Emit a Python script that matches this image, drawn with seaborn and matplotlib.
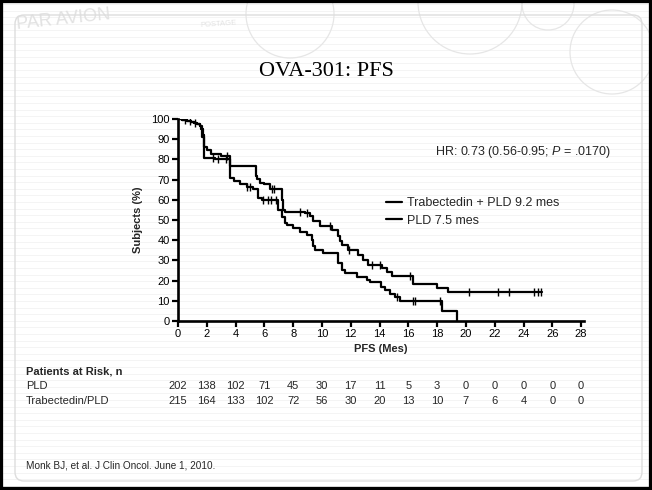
import numpy as np
import pandas as pd
import matplotlib
matplotlib.use("Agg")
import matplotlib.pyplot as plt
import matplotlib.transforms as mtransforms
from matplotlib.patches import FancyBboxPatch, Circle, Rectangle
from matplotlib.lines import Line2D
import seaborn as sns

# ---- data -------------------------------------------------------------
months = [0, 2, 4, 6, 8, 10, 12, 14, 16, 18, 20, 22, 24, 26, 28]
pld_at_risk = [202, 138, 102, 71, 45, 30, 17, 11, 5, 3, 0, 0, 0, 0, 0]
trab_at_risk = [215, 164, 133, 102, 72, 56, 30, 20, 13, 10, 7, 6, 4, 0, 0]

pld_time = [0, 0.3, 0.6, 0.9, 1.1, 1.3, 1.5, 1.62, 1.7, 1.78, 2.6, 3.6, 3.9,
            4.3, 4.8, 5.2, 5.58, 5.8, 6.97, 7.2, 7.44, 7.6, 8.01, 8.48, 8.94,
            9.29, 9.4, 9.5, 10.1, 11.14, 11.37, 11.6, 12.42, 13.11, 13.34,
            14.1, 14.38, 14.73, 15.08, 15.43, 18.32, 19.41]
pld_surv = [100, 99.5, 99.0, 98.5, 98.0, 97.5, 96.5, 95, 91, 80.9, 80.4, 71,
            69.3, 67.6, 66.5, 65.1, 61, 60.1, 55, 51.5, 48.5, 47.4, 46, 44.3,
            42.7, 40.2, 37, 35, 33.8, 28.6, 25.3, 23.6, 21.9, 20.3, 19.2, 17,
            15.3, 13.6, 12, 10, 4.8, 0]
pld_censored = [0.8, 2.4, 2.8, 3.3, 4.8, 5.0, 5.9, 6.24, 6.49, 6.8,
                15.2, 16.35, 16.47, 18.2]

trab_time = [0, 0.3, 0.6, 0.9, 1.1, 1.3, 1.5, 1.65, 1.72, 1.81, 2.0, 2.3, 3.0,
             3.6, 5.42, 5.5, 5.7, 6.0, 6.39, 7.2, 7.3, 7.4, 8.8, 9.17, 9.4,
             9.87, 10.68, 11.14, 11.25, 11.37, 11.84, 12.53, 12.88, 13.23,
             14.15, 14.5, 14.85, 16.35, 17.98, 18.72, 25.3]
trab_surv = [100, 99.5, 99.0, 98.5, 98.0, 97.5, 96.5, 95, 92, 85.9, 84.8, 82.7,
             81.7, 76.7, 72, 70.1, 68.5, 67.6, 65.3, 60, 55, 53.8, 53.3, 51.8,
             49.3, 46.8, 45.2, 42, 39.4, 37.7, 35.2, 32.7, 30.3, 27.8, 26.1,
             24.4, 22.3, 18.3, 16.1, 14.3, 14.3]
trab_censored = [0.5, 1.2, 3.4, 6.5, 6.7, 8.47, 8.94, 10.56, 11.9, 13.46,
                 14.04, 16.12, 20.18, 22.2, 22.96, 24.76, 25.0, 25.23]

legend_labels = ["Trabectedin + PLD 9.2 mes", "PLD 7.5 mes"]
risk_labels = ["PLD", "Trabectedin/PLD"]

# ---- style ------------------------------------------------------------
sns.set_theme(style="white")
plt.rcParams["font.family"] = ["Liberation Sans", "DejaVu Sans"]
plt.rcParams["mathtext.fontset"] = "custom"
plt.rcParams["mathtext.rm"] = "Liberation Sans"
plt.rcParams["mathtext.it"] = "Liberation Sans:italic"

W, H = 652, 490
fig = plt.figure(figsize=(W / 100, H / 100), dpi=100)
fig.patch.set_facecolor("white")

# ---- slide background (pixel coordinates) -----------------------------
bg = fig.add_axes([0, 0, 1, 1], zorder=0)
bg.set_xlim(0, W)
bg.set_ylim(H, 0)
bg.axis("off")

for yy in np.arange(4, H, 6.6):
    bg.plot([0, W], [yy, yy], color="#f3f3f3", lw=0.6, zorder=0)

# faint postmarks along the top edge
stamp_col = "#e6e6e6"
for (cx, cy, r) in [(290, 14, 44), (470, 2, 52), (612, 52, 42), (548, 4, 26)]:
    bg.add_patch(Circle((cx, cy), r, fill=False, ec=stamp_col, lw=0.9, zorder=1))
bg.text(16, 20, "PAR AVION", fontsize=13, color="#e2e2e2", rotation=6,
        ha="left", va="center", zorder=1)
bg.text(200, 24, "POSTAGE", fontsize=5.5, color="#e2e2e2", rotation=4,
        ha="left", va="center", zorder=1)

bg.add_patch(FancyBboxPatch((15, 15), 627, 466,
                            boxstyle="round,pad=0,rounding_size=9",
                            fc="none", ec="#dddddd", lw=1.0, zorder=2))
bg.add_patch(Rectangle((0, 0), W, H, fill=False, ec="black", lw=4.5, zorder=3))

bg.text(326, 72, "OVA-301: PFS", fontsize=16, family="Liberation Serif",
        ha="center", va="center", color="black", zorder=4)

# ---- Kaplan-Meier panel -----------------------------------------------
ax = fig.add_axes([178 / W, 1 - 321 / H, 406 / W, 202 / H], zorder=2)
ax.patch.set_alpha(0)

curves = pd.concat([
    pd.DataFrame({"time": trab_time, "surv": trab_surv, "arm": legend_labels[0]}),
    pd.DataFrame({"time": pld_time, "surv": pld_surv, "arm": legend_labels[1]}),
])
sns.lineplot(data=curves, x="time", y="surv", hue="arm", units="arm",
             estimator=None, sort=False, drawstyle="steps-post",
             palette=["black", "black"], lw=1.6, ax=ax, legend=False)


def step_value(times, surv, t):
    idx = np.searchsorted(times, t, side="right") - 1
    return np.asarray(surv)[idx]


cens = pd.concat([
    pd.DataFrame({"time": trab_censored,
                  "surv": step_value(trab_time, trab_surv, trab_censored)}),
    pd.DataFrame({"time": pld_censored,
                  "surv": step_value(pld_time, pld_surv, pld_censored)}),
])
sns.scatterplot(data=cens, x="time", y="surv", marker="|", s=28,
                color="black", linewidth=1.0, ax=ax, zorder=5)

ax.set_xlim(0, 28.2)
ax.set_ylim(0, 100)
ax.set_xticks(months)
ax.set_yticks(range(0, 101, 10))
ax.tick_params(axis="both", direction="out", length=4, width=1.6,
               labelsize=8, pad=2, color="black", labelcolor="black",
               bottom=True, left=True)
for side in ("top", "right"):
    ax.spines[side].set_visible(False)
for side in ("left", "bottom"):
    ax.spines[side].set_linewidth(1.9)
    ax.spines[side].set_color("black")
ax.set_xlabel("PFS (Mes)", fontsize=8, fontweight="bold", labelpad=3)
ax.set_ylabel("Subjects (%)", fontsize=8, fontweight="bold", labelpad=6)

handles = [Line2D([], [], color="black", lw=1.6) for _ in legend_labels]
fig.legend(handles, legend_labels, loc="upper left",
           bbox_to_anchor=(386 / W, 1 - 197 / H), frameon=False, fontsize=9,
           handlelength=1.3, handletextpad=0.35, labelspacing=0.45,
           borderpad=0, borderaxespad=0)

fig.text(435 / W, 1 - 152 / H, "HR: 0.73 (0.56-0.95; $P$ = .0170)",
         fontsize=9, ha="left", va="center")

# ---- patients at risk -------------------------------------------------
trans = mtransforms.blended_transform_factory(ax.transData, fig.transFigure)
fig.text(26 / W, 1 - 371 / H, "Patients at Risk, n", fontsize=8,
         fontweight="bold", ha="left", va="center")
for row, (label, counts) in enumerate(zip(risk_labels, [pld_at_risk, trab_at_risk])):
    y = 1 - (386 + 15 * row) / H
    fig.text(26 / W, y, label, fontsize=8, ha="left", va="center")
    for m, n in zip(months, counts):
        ax.text(m, y, str(n), transform=trans, fontsize=8,
                ha="center", va="center", clip_on=False)

fig.text(26 / W, 1 - 465 / H, "Monk BJ, et al. J Clin Oncol. June 1, 2010.",
         fontsize=7.2, ha="left", va="center")

fig.savefig("out.png", dpi=100)
